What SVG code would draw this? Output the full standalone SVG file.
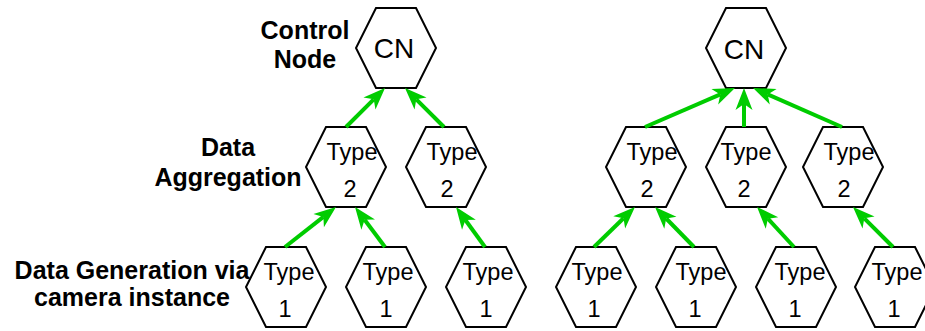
<svg xmlns="http://www.w3.org/2000/svg" xmlns:xlink="http://www.w3.org/1999/xlink" width="925" height="331" viewBox="0 0 925 331">
  <style>
    .hex { fill: #ffffff; stroke: #000000; stroke-width: 2; stroke-linejoin: miter; }
    .lbl { font-family: "Liberation Sans", Arial, Helvetica, sans-serif; font-size: 25px; font-weight: bold; fill: #000000; text-anchor: middle; }
    .cn { font-family: "Liberation Sans", Arial, Helvetica, sans-serif; font-size: 28px; fill: #000000; text-anchor: middle; }
    .tx { font-family: "Liberation Sans", Arial, Helvetica, sans-serif; font-size: 23.5px; fill: #000000; text-anchor: middle; }
    .edge { fill: none; stroke: #00cc00; stroke-width: 4; marker-end: url(#arrow); }
  </style>
  <defs>
    <polygon id="hexShape" points="-20,-40 20,-40 40,0 20,40 -20,40 -40,0"/>
    <marker id="arrow" markerUnits="userSpaceOnUse" markerWidth="24" markerHeight="18" viewBox="0 -9 24 18" refX="6" refY="0" orient="auto" overflow="visible">
      <path d="M22,0 L0,-8.5 L6,0 L0,8.5 Z" fill="#00cc00"/>
    </marker>
  </defs>

  <!-- tier captions -->
  <g id="caption-control">
    <text class="lbl" x="305" y="39">Control</text>
    <text class="lbl" x="305" y="68">Node</text>
  </g>
  <g id="caption-aggregation">
    <text class="lbl" x="228" y="156">Data</text>
    <text class="lbl" x="228" y="186">Aggregation</text>
  </g>
  <g id="caption-generation">
    <text class="lbl" x="132" y="279">Data Generation via</text>
    <text class="lbl" x="132" y="306">camera instance</text>
  </g>

  <!-- left tree -->
  <g id="cn-left">
    <use xlink:href="#hexShape" class="hex" x="396" y="48"/>
    <text class="cn" x="394" y="58">CN</text>
  </g>
  <g id="t2-left-a">
    <use xlink:href="#hexShape" class="hex" x="346" y="167"/>
    <text class="tx" x="352" y="160">Type</text>
    <text class="tx" x="350" y="197">2</text>
  </g>
  <g id="t2-left-b">
    <use xlink:href="#hexShape" class="hex" x="446" y="167"/>
    <text class="tx" x="452" y="160">Type</text>
    <text class="tx" x="447" y="197">2</text>
  </g>
  <g id="t1-left-a">
    <use xlink:href="#hexShape" class="hex" x="286" y="287"/>
    <text class="tx" x="289" y="280">Type</text>
    <text class="tx" x="285" y="317">1</text>
  </g>
  <g id="t1-left-b">
    <use xlink:href="#hexShape" class="hex" x="386" y="287"/>
    <text class="tx" x="388" y="280">Type</text>
    <text class="tx" x="386" y="317">1</text>
  </g>
  <g id="t1-left-c">
    <use xlink:href="#hexShape" class="hex" x="486" y="287"/>
    <text class="tx" x="488" y="280">Type</text>
    <text class="tx" x="486" y="317">1</text>
  </g>

  <!-- right tree -->
  <g id="cn-right">
    <use xlink:href="#hexShape" class="hex" x="746" y="48"/>
    <text class="cn" x="744" y="59">CN</text>
  </g>
  <g id="t2-right-a">
    <use xlink:href="#hexShape" class="hex" x="646" y="167"/>
    <text class="tx" x="652" y="160">Type</text>
    <text class="tx" x="647" y="197">2</text>
  </g>
  <g id="t2-right-b">
    <use xlink:href="#hexShape" class="hex" x="746" y="167"/>
    <text class="tx" x="746" y="160">Type</text>
    <text class="tx" x="744" y="197">2</text>
  </g>
  <g id="t2-right-c">
    <use xlink:href="#hexShape" class="hex" x="843" y="167"/>
    <text class="tx" x="849" y="160">Type</text>
    <text class="tx" x="844" y="197">2</text>
  </g>
  <g id="t1-right-a">
    <use xlink:href="#hexShape" class="hex" x="596" y="287"/>
    <text class="tx" x="597" y="280">Type</text>
    <text class="tx" x="594" y="317">1</text>
  </g>
  <g id="t1-right-b">
    <use xlink:href="#hexShape" class="hex" x="696" y="287"/>
    <text class="tx" x="701" y="280">Type</text>
    <text class="tx" x="695" y="317">1</text>
  </g>
  <g id="t1-right-c">
    <use xlink:href="#hexShape" class="hex" x="796" y="287"/>
    <text class="tx" x="800" y="280">Type</text>
    <text class="tx" x="795" y="317">1</text>
  </g>
  <g id="t1-right-d">
    <use xlink:href="#hexShape" class="hex" x="895" y="287"/>
    <text class="tx" x="897" y="280">Type</text>
    <text class="tx" x="894" y="317">1</text>
  </g>

  <!-- connectors: each path ends at the arrowhead notch; the tip sits on the parent's lower edge -->
  <g id="connectors">
    <path class="edge" d="M346,127 L373.7,99.3"/>
    <path class="edge" d="M444,127 L416.3,99.3"/>
    <path class="edge" d="M285,247 L323.4,216.9"/>
    <path class="edge" d="M385,247 L364.6,219.8"/>
    <path class="edge" d="M485,247 L465.4,220"/>

    <path class="edge" d="M645,127 L720.3,94.4"/>
    <path class="edge" d="M744,127 L744,104"/>
    <path class="edge" d="M842,127 L767.7,94.4"/>
    <path class="edge" d="M594,247 L623.5,218.2"/>
    <path class="edge" d="M694,247 L666.2,218.5"/>
    <path class="edge" d="M794,247 L767.9,218.7"/>
    <path class="edge" d="M893,247 L864.3,218.3"/>
  </g>
</svg>
